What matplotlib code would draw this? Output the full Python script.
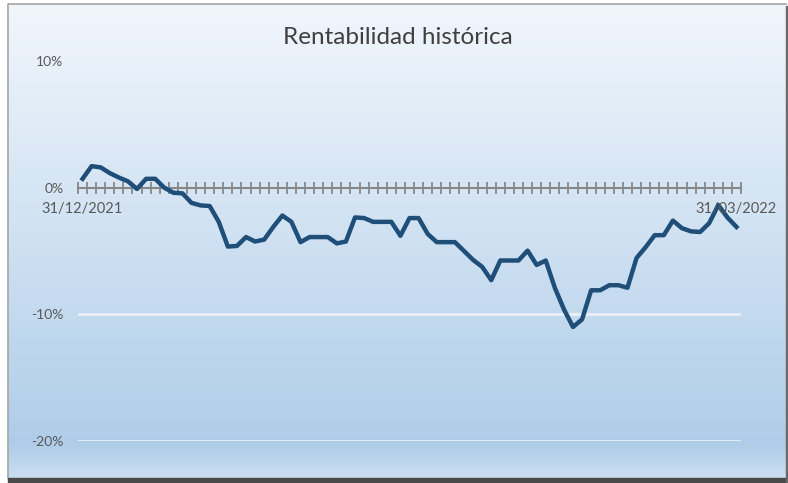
import numpy as np
import matplotlib
matplotlib.use("Agg")
import matplotlib.pyplot as plt
from matplotlib.colors import LinearSegmentedColormap

plt.rcParams['font.family'] = ['Lato', 'DejaVu Sans']

titulo = "Rentabilidad histórica"
fecha_ini = "31/12/2021"
fecha_fin = "31/03/2022"
y_ticks = [10, 0, -10, -20]

rentabilidad = [
    0.7, 1.7, 1.6, 1.15, 0.8, 0.5, -0.1, 0.7, 0.7, 0.0,
    -0.4, -0.45, -1.2, -1.4, -1.45, -2.7, -4.65, -4.6, -3.9, -4.25,
    -4.1, -3.1, -2.2, -2.7, -4.3, -3.9, -3.9, -3.9, -4.4, -4.25,
    -2.35, -2.4, -2.7, -2.7, -2.7, -3.8, -2.4, -2.4, -3.65, -4.3,
    -4.3, -4.3, -5.0, -5.7, -6.25, -7.3, -5.75, -5.75, -5.75, -4.97,
    -6.1, -5.75, -7.9, -9.6, -11.0, -10.4, -8.1, -8.1, -7.7, -7.7,
    -7.9, -5.55, -4.7, -3.75, -3.75, -2.6, -3.2, -3.45, -3.5, -2.8,
    -1.37, -2.35, -3.1,
]

W, H = 788, 483
fig = plt.figure(figsize=(W / 100, H / 100), dpi=100)
fig.patch.set_facecolor('white')

# fondo del grafico: marco con degradado y sombra
bg = fig.add_axes([0, 0, 1, 1])
bg.set_xlim(0, W)
bg.set_ylim(H, 0)
bg.axis('off')
cmap = LinearSegmentedColormap.from_list(
    'fondo', [(0, '#f1f6fc'), (0.45, '#d2e3f3'), (0.93, '#afcde9'), (1, '#cadef1')])
grad = np.linspace(0, 1, 256).reshape(-1, 1)
bg.imshow(grad, cmap=cmap, aspect='auto', extent=(8, 786, 478, 4), zorder=1)
bg.plot([8, 8, 786], [478, 4, 4], color='#a6a6a6', lw=1.2, zorder=2)
bg.fill_between([8, 788], 478, 483, color='#4a4a4a', zorder=2)
bg.fill_between([786, 788], 6, 483, color='#6a6a6a', zorder=2)

fig.text(398 / W, 1 - 37 / H, titulo, ha='center', va='center',
         fontsize=17.5, color='#404040')

ax = fig.add_axes([78 / W, 1 - 441 / H, 663 / W, 380 / H])
ax.patch.set_alpha(0)
x = np.arange(len(rentabilidad))
ax.set_xlim(-0.5, len(rentabilidad) - 0.5)
ax.set_ylim(-20, 10)

for v in y_ticks:
    if v != 0:
        ax.axhline(v, color='#e9eff6', lw=2, zorder=1)

ax.plot(x, rentabilidad, color='#1f4e79', lw=3.2, solid_joinstyle='round',
        zorder=3)

for s in ['top', 'right', 'left']:
    ax.spines[s].set_visible(False)
ax.spines['bottom'].set_position(('data', 0))
ax.spines['bottom'].set_color('#878787')
ax.spines['bottom'].set_linewidth(1.5)
ax.spines['bottom'].set_zorder(2)
ax.set_xticks(np.arange(-0.5, len(rentabilidad), 1))
ax.set_xticklabels([])
ax.tick_params(axis='x', direction='inout', length=8, width=1.3,
               color='#878787')

ax.set_yticks(y_ticks)
ax.set_yticklabels([f'{v}%' for v in y_ticks])
ax.tick_params(axis='y', length=0, pad=10.5, labelsize=10, labelcolor='#595959')

for xi, lab in [(x[0], fecha_ini), (x[-1], fecha_fin)]:
    ax.annotate(lab, xy=(xi, 0), xytext=(0, -10), textcoords='offset points',
                ha='center', va='top', fontsize=10.5, color='#595959')

fig.savefig('out.png', dpi=100)
